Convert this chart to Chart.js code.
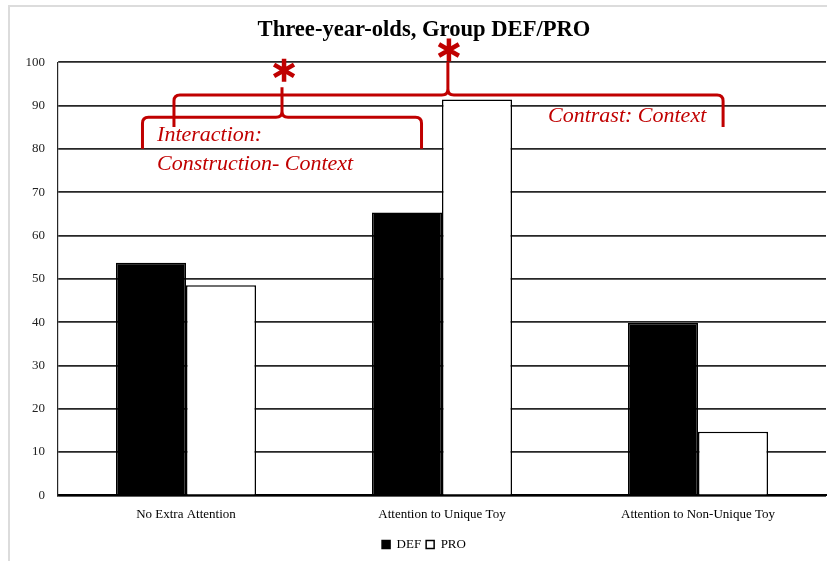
<!DOCTYPE html>
<html>
<head>
<meta charset="utf-8">
<script src="https://cdn.jsdelivr.net/npm/chart.js@4.4.0/dist/chart.umd.min.js"></script>
<style>
    html, body { margin: 0; padding: 0; background: #fff; overflow: hidden; }
    #wrap { position: relative; width: 827px; height: 561px; }
    #frame { position: absolute; left: 8px; top: 5px; width: 900px; height: 600px; border-left: 2px solid #dcdcdc; border-top: 2px solid #dcdcdc; pointer-events: none; }
</style>
</head>
<body>
<div id="wrap">
    <canvas id="chart" width="827" height="561"></canvas>
    <div id="frame"></div>
</div>
<script>
// values
const categories = ['No Extra Attention', 'Attention to Unique Toy', 'Attention to Non-Unique Toy'];
const defValues = [53.7, 65.3, 39.8];
const proValues = [48.5, 91.4, 14.7];
const yTicks = [0, 10, 20, 30, 40, 50, 60, 70, 80, 90, 100];

const SERIF = "'Liberation Serif', 'Times New Roman', serif";
const RED = '#c00000';

// red notes, placed in axis units (category index / percent)
const notes = {
    braces: [
        { from: -0.17, to: 0.92, peak: 0.375, y: 87.3, foot: 80, tip: 94.2 },
        { from: -0.047, to: 2.098, peak: 1.023, y: 92.4, foot: 85, tip: 100 }
    ],
    stars: [{ x: 0.383, y: 98.1 }, { x: 1.027, y: 102.8 }],
    labels: [
        { text: 'Interaction:', x: -0.113, y: 83.1 },
        { text: 'Construction- Context', x: -0.113, y: 76.5 },
        { text: 'Contrast: Context', x: 1.414, y: 87.5 }
    ]
};

const notesPlugin = {
    id: 'notes',
    afterDraw(chart) {
        const { ctx, scales: { x, y } } = chart;
        ctx.save();
        ctx.strokeStyle = RED;
        ctx.fillStyle = RED;
        ctx.lineWidth = 3;
        ctx.lineJoin = 'round';
        const r = 6;
        notes.braces.forEach(b => {
            const l = x.getPixelForValue(b.from), rt = x.getPixelForValue(b.to), p = x.getPixelForValue(b.peak);
            const h = y.getPixelForValue(b.y), f = y.getPixelForValue(b.foot), t = y.getPixelForValue(b.tip);
            ctx.beginPath();
            ctx.moveTo(l, f);
            ctx.lineTo(l, h + r);
            ctx.quadraticCurveTo(l, h, l + r, h);
            ctx.lineTo(p - r, h);
            ctx.quadraticCurveTo(p, h, p, h - r);
            ctx.lineTo(p, t);
            ctx.moveTo(p, h - r);
            ctx.quadraticCurveTo(p, h, p + r, h);
            ctx.lineTo(rt - r, h);
            ctx.quadraticCurveTo(rt, h, rt, h + r);
            ctx.lineTo(rt, f);
            ctx.stroke();
        });
        ctx.lineWidth = 4.5;
        notes.stars.forEach(s => {
            const cx = x.getPixelForValue(s.x), cy = y.getPixelForValue(s.y);
            ctx.beginPath();
            [90, 30, 150].forEach(a => {
                const rad = a * Math.PI / 180, dx = Math.cos(rad) * 11.5, dy = Math.sin(rad) * 11.5;
                ctx.moveTo(cx - dx, cy - dy);
                ctx.lineTo(cx + dx, cy + dy);
            });
            ctx.stroke();
        });
        ctx.font = 'italic 22px ' + SERIF;
        ctx.textAlign = 'left';
        ctx.textBaseline = 'middle';
        notes.labels.forEach(n => {
            ctx.fillText(n.text, x.getPixelForValue(n.x), y.getPixelForValue(n.y));
        });
        ctx.restore();
    }
};

new Chart(document.getElementById('chart'), {
    type: 'bar',
    data: {
        labels: categories,
        datasets: [
            { label: 'DEF', data: defValues, backgroundColor: '#000', borderColor: '#000', borderWidth: 1.5 },
            { label: 'PRO', data: proValues, backgroundColor: '#fff', borderColor: '#000', borderWidth: 1.5 }
        ]
    },
    options: {
        responsive: false,
        animation: false,
        devicePixelRatio: 1,
        categoryPercentage: 0.547,
        barPercentage: 1,
        // left padding keeps title/legend centred on the original (wider) figure
        layout: { padding: { left: 22, right: 1, top: 0, bottom: 0 } },
        scales: {
            x: {
                grid: { display: false, drawTicks: false },
                border: { display: true, color: '#000', width: 2 },
                ticks: { color: '#000', font: { family: SERIF, size: 13 }, padding: 11, maxRotation: 0 }
            },
            y: {
                min: 0,
                max: 100,
                afterFit: (scale) => { scale.width = 36; },
                afterBuildTicks: (scale) => { scale.ticks = yTicks.map(v => ({ value: v })); },
                grid: { color: '#262626', lineWidth: 1.8, drawTicks: false },
                border: { display: true, color: '#262626', width: 1.2 },
                ticks: { color: '#222', font: { family: SERIF, size: 13 }, padding: 13 }
            }
        },
        plugins: {
            title: {
                display: true,
                text: 'Three-year-olds, Group DEF/PRO',
                color: '#000',
                font: { family: SERIF, size: 22.6, weight: 'bold' },
                padding: { top: 16.5, bottom: 18.5 }
            },
            legend: {
                position: 'bottom',
                labels: {
                    color: '#000',
                    font: { family: SERIF, size: 13 },
                    boxWidth: 8,
                    boxHeight: 8,
                    padding: 5
                }
            },
            tooltip: { enabled: false }
        }
    },
    plugins: [notesPlugin]
});
</script>
</body>
</html>
